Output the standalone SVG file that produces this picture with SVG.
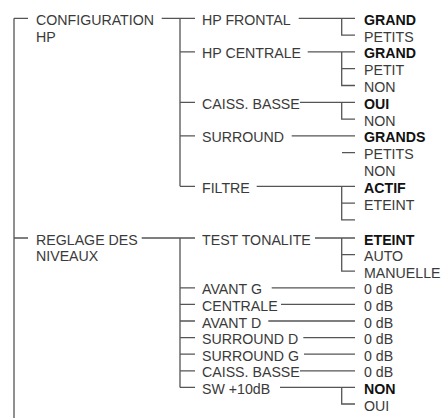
<svg xmlns="http://www.w3.org/2000/svg" width="445" height="418" viewBox="0 0 445 418">
<style>
text{font-family:"Liberation Sans",Arial,sans-serif;font-size:14.2px;fill:#3a3a3a}
.b{font-weight:bold;fill:#111}
#connectors path{fill:none;stroke:#555;stroke-width:1.3}
</style>
<rect width="445" height="418" fill="#fff"/>
<g id="connectors">
<path d="M14 18.3V418M14 18.3H28M14 238H28"/>
<path d="M161.7 18.3H195M180 18.3V186.3M180 51.9H195M180 102.3H195M180 135.9H195M180 186.3H195"/>
<path d="M141.7 238H195M180 238V387.4M180 287.8H195M180 304.4H195M180 321H195M180 337.6H195M180 354.2H195M180 370.8H195M180 387.4H195"/>
<path d="M298.7 18.3H355M341.7 18.3V35.1H355"/>
<path d="M307.7 51.9H355M341.7 51.9V85.5H355M341.7 68.7H355"/>
<path d="M300 102.3H355M341.7 102.3V119.1H355"/>
<path d="M291.7 135.9H355M342 152.7H355"/>
<path d="M256.7 186.3H355M341.7 186.3V219.9H355M341.7 203.1H355"/>
<path d="M315 238H355M341.7 238V271.2H355M341.7 254.6H355"/>
<path d="M271.7 287.8H355M281 304.4H355M268.3 321H355M303.3 337.6H355M304 354.2H355M300 370.8H355"/>
<path d="M280 387.4H355M341.7 387.4V404H355"/>
</g>
<g id="config"><text x="36" y="24.8">CONFIGURATION</text><text x="36" y="41.6">HP</text></g>
<g id="reglage"><text x="36" y="244.5">REGLAGE DES</text><text x="36" y="261.2">NIVEAUX</text></g>
<g id="hp-frontal"><text x="202" y="24.8">HP FRONTAL</text></g>
<g id="hp-centrale"><text x="202" y="58.4">HP CENTRALE</text></g>
<g id="caiss-basse"><text x="202" y="108.8">CAISS. BASSE</text></g>
<g id="surround"><text x="202" y="142.4">SURROUND</text></g>
<g id="filtre"><text x="202" y="192.8">FILTRE</text></g>
<g id="test-tonalite"><text x="202" y="244.5">TEST TONALITE</text></g>
<g id="avant-g"><text x="202" y="294.3">AVANT G</text></g>
<g id="centrale"><text x="202" y="310.9">CENTRALE</text></g>
<g id="avant-d"><text x="202" y="327.5">AVANT D</text></g>
<g id="surround-d"><text x="202" y="344.1">SURROUND D</text></g>
<g id="surround-g"><text x="202" y="360.7">SURROUND G</text></g>
<g id="caiss-basse-niv"><text x="202" y="377.3">CAISS. BASSE</text></g>
<g id="sw"><text x="202" y="393.9">SW +10dB</text></g>
<g id="opt-frontal"><text class="b" x="364" y="24.8">GRAND</text><text x="364" y="41.6">PETITS</text></g>
<g id="opt-centrale"><text class="b" x="364" y="58.4">GRAND</text><text x="364" y="75.2">PETIT</text><text x="364" y="92">NON</text></g>
<g id="opt-caiss"><text class="b" x="364" y="108.8">OUI</text><text x="364" y="125.6">NON</text></g>
<g id="opt-surround"><text class="b" x="364" y="142.4">GRANDS</text><text x="364" y="159.2">PETITS</text><text x="364" y="176">NON</text></g>
<g id="opt-filtre"><text class="b" x="364" y="192.8">ACTIF</text><text x="364" y="209.6">ETEINT</text></g>
<g id="opt-test"><text class="b" x="364" y="244.5">ETEINT</text><text x="364" y="261.1">AUTO</text><text x="364" y="277.7">MANUELLE</text></g>
<g id="opt-avant-g"><text x="364" y="294.3">0 dB</text></g>
<g id="opt-centrale-niv"><text x="364" y="310.9">0 dB</text></g>
<g id="opt-avant-d"><text x="364" y="327.5">0 dB</text></g>
<g id="opt-surround-d"><text x="364" y="344.1">0 dB</text></g>
<g id="opt-surround-g"><text x="364" y="360.7">0 dB</text></g>
<g id="opt-caiss-niv"><text x="364" y="377.3">0 dB</text></g>
<g id="opt-sw"><text class="b" x="364" y="393.9">NON</text><text x="364" y="410.5">OUI</text></g>
</svg>
